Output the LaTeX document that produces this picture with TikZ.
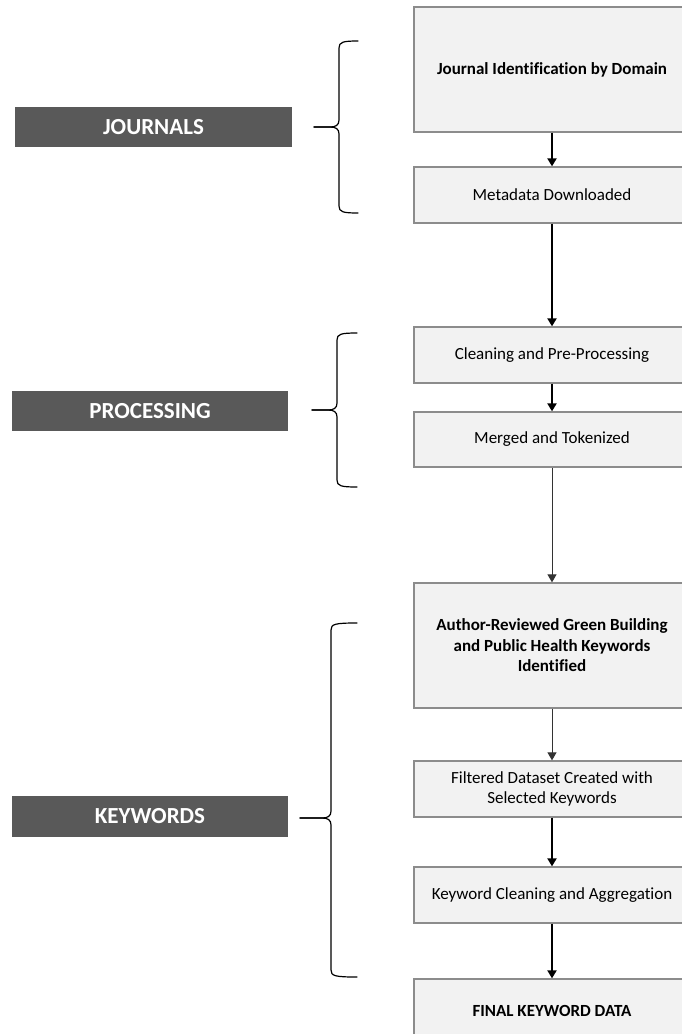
\documentclass[tikz,border=0pt]{standalone}
\usepackage{fontspec}
\setmainfont[Ligatures=NoCommon]{Carlito}
\usetikzlibrary{arrows.meta}
\definecolor{boxfill}{HTML}{F2F2F2}
\definecolor{boxline}{HTML}{8C8C8C}
\definecolor{labfill}{HTML}{595959}
\tikzset{
  stepbox/.style={draw=boxline, line width=1.3pt, fill=boxfill, minimum width=276pt, align=center, inner sep=0pt, font=\fontsize{17}{20.5}\selectfont},
  boldbox/.style={stepbox, font=\fontsize{17}{20.5}\selectfont\bfseries},
  phase/.style={fill=labfill, draw=none, text=white, minimum width=277pt, minimum height=40pt, inner sep=0pt, font=\fontsize{23}{27}\selectfont\bfseries},
  thickarrow/.style={draw=black, line width=2pt, -{Triangle[width=9pt,length=8pt]}},
  thinarrow/.style={draw=black!80, line width=1pt, -{Triangle[width=9pt,length=8pt]}},
  bracestyle/.style={draw=black, line width=1.2pt, line cap=round}
}
\newcommand{\mybrace}[6]{% tipx, vx, endx, top, mid, bot
  \draw[bracestyle] (#3,#4) .. controls (#2+4,#4) and (#2,#4+1) .. (#2,#4+7)
    -- (#2,#5-7) .. controls (#2,#5-2) and (#2-3,#5) .. (#2-9,#5) -- (#1,#5);
  \draw[bracestyle] (#1,#5) -- (#2-9,#5) .. controls (#2-3,#5) and (#2,#5+2) .. (#2,#5+7)
    -- (#2,#6-7) .. controls (#2,#6-1) and (#2+4,#6) .. (#3,#6);
}
\begin{document}
\begin{tikzpicture}[x=1pt,y=-1pt]
\useasboundingbox (0,0) rectangle (682,1034);
\clip (0,0) rectangle (682,1034);
\fill[white] (0,0) rectangle (682,1034);

% process boxes
\node[boldbox, minimum height=125pt] (b1) at (552,69.5) {Journal Identification by Domain};
\node[stepbox, minimum height=56pt] (b2) at (552,195) {Metadata Downloaded};
\node[stepbox, minimum height=56pt] (b3) at (552,355) {Cleaning and Pre-Processing};
\node[stepbox, minimum height=55pt] (b4) at (552,439.5) {Merged and Tokenized};
\node[boldbox, minimum height=125pt] (b5) at (552,645.5) {Author-Reviewed Green Building\\and Public Health Keywords\\Identified};
\node[stepbox, minimum height=56pt] (b6) at (552,789) {Filtered Dataset Created with\\Selected Keywords};
\node[stepbox, minimum height=56pt] (b7) at (552,895) {Keyword Cleaning and Aggregation};
\node[boldbox, minimum height=64pt] (b8) at (552,1011) {FINAL KEYWORD DATA};

% connectors
\draw[thickarrow] (b1) -- (b2);
\draw[thickarrow] (b2) -- (b3);
\draw[thickarrow] (b3) -- (b4);
\draw[thinarrow] (b4) -- (b5);
\draw[thinarrow] (b5) -- (b6);
\draw[thickarrow] (b6) -- (b7);
\draw[thickarrow] (b7) -- (b8);

% phase labels
\node[phase] (journals) at (153.5,127) {JOURNALS};
\node[phase, minimum width=276pt] (processing) at (150,411) {PROCESSING};
\node[phase, minimum width=276pt, minimum height=41pt] (keywords) at (150,816.5) {KEYWORDS};

% braces
\mybrace{314}{339}{358}{41}{127}{213}
\mybrace{312}{337}{357}{333}{410}{487}
\mybrace{300}{331}{357}{623}{818}{977}
\end{tikzpicture}
\end{document}
